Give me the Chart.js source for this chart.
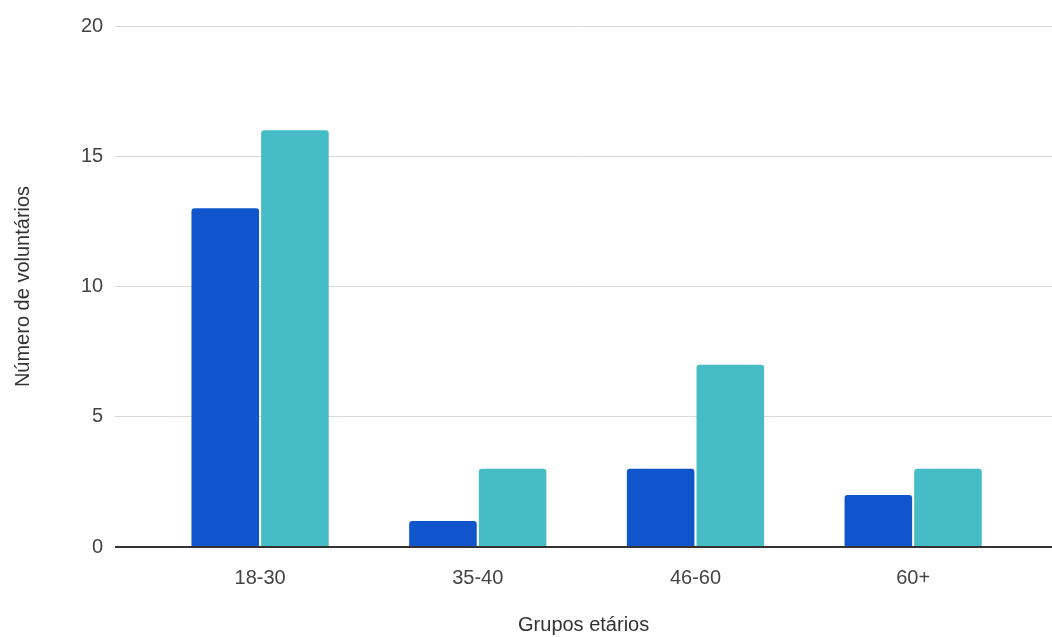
<!DOCTYPE html>
<html>
<head>
<meta charset="utf-8">
<script src="https://cdn.jsdelivr.net/npm/chart.js@4"></script>
<style>
  body { margin: 0; background: #fff; }
  #wrap { width: 1052px; height: 637px; }
</style>
</head>
<body>
<div id="wrap"><canvas id="chart" width="1052" height="637"></canvas></div>
<script>
// data
var categories = ["18-30", "35-40", "46-60", "60+"];
var seriesA = [13, 1, 3, 2];
var seriesB = [16, 3, 7, 3];
var yTicks = [0, 5, 10, 15, 20];

var font = { family: "'Liberation Sans', Arial, sans-serif", size: 20 };

// the category slots sit a bit inside the gridlines, like in the sheet chart
var insetX = {
  id: 'insetX',
  afterLayout: function(chart) {
    var x = chart.scales.x;
    x._startPixel = x.left + 36;
    x._endPixel = x.right - 30;
    x._length = x._endPixel - x._startPixel;
  }
};

var ctx = document.getElementById('chart').getContext('2d');
var myChart = new Chart(ctx, {
  type: 'bar',
  data: {
    labels: categories,
    datasets: [{
      label: "Série 1",
      data: seriesA,
      backgroundColor: '#1155cc',
      borderRadius: { topLeft: 3, topRight: 3 },
      borderSkipped: 'bottom',
      barPercentage: 0.97,
      categoryPercentage: 0.64
    }, {
      label: "Série 2",
      data: seriesB,
      backgroundColor: '#46bdc6',
      borderRadius: { topLeft: 3, topRight: 3 },
      borderSkipped: 'bottom',
      barPercentage: 0.97,
      categoryPercentage: 0.64
    }]
  },
  options: {
    responsive: false,
    animation: false,
    layout: { padding: { top: 26, right: 0, bottom: 0, left: 11 } },
    plugins: {
      legend: { display: false },
      tooltip: { enabled: false }
    },
    scales: {
      x: {
        grid: { display: false },
        border: { display: false },
        ticks: { color: '#444', font: font, padding: 11 },
        title: {
          display: true,
          text: 'Grupos etários',
          color: '#333',
          font: font,
          padding: { top: 12, bottom: 0 }
        }
      },
      y: {
        min: 0,
        max: 20,
        afterBuildTicks: function(scale) {
          scale.ticks = yTicks.map(function(v) { return { value: v }; });
        },
        border: { display: false },
        grid: {
          drawTicks: false,
          color: function(c) { return c.tick && c.tick.value === 0 ? '#333' : '#d9d9d9'; },
          lineWidth: function(c) { return c.tick && c.tick.value === 0 ? 2 : 1; }
        },
        ticks: { color: '#444', font: font, padding: 12 },
        title: {
          display: true,
          text: 'Número de voluntários',
          color: '#333',
          font: font,
          padding: { top: 0, bottom: 34 }
        }
      }
    }
  },
  plugins: [insetX]
});
</script>
</body>
</html>
